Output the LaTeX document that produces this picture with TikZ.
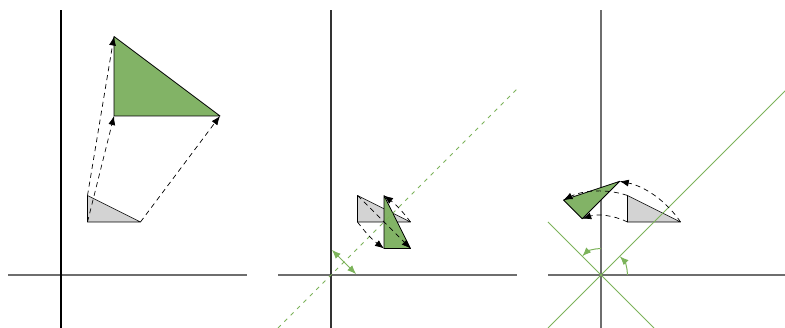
\documentclass[tikz,border=0pt]{standalone}
\usetikzlibrary{arrows.meta}
\definecolor{gfill}{HTML}{82B366}
\definecolor{gline}{HTML}{7CB35A}
\definecolor{tgray}{HTML}{D3D3D3}
\definecolor{axgray}{HTML}{6E6E6E}
\tikzset{
  axisline/.style={line width=1.2pt, axgray},
  srctri/.style={draw=black, fill=tgray, line width=0.6pt, line join=round},
  imgtri/.style={draw=black, fill=gfill, line width=0.8pt, line join=round},
  maparrow/.style={line width=0.7pt, dash pattern=on 5pt off 4pt, -{Latex[length=9pt,width=7pt]}},
  mirror/.style={gline, line width=0.9pt},
  angarrow/.style={gline, line width=1pt, -{Latex[length=9pt,width=7pt]}},
}
\begin{document}
\begin{tikzpicture}[x=1pt,y=1pt]
\useasboundingbox (0,0) rectangle (785,328);
% ---------- panel 1: scaling ----------
\begin{scope}[shift={(61,53)}, x=26.5pt, y=26.5pt]
  \draw[axisline] (-2,0) -- (7,0);
  \draw[line width=1.1pt, black] (0,-2) -- (0,10);
  \coordinate (a1) at (1,3); \coordinate (b1) at (1,2); \coordinate (c1) at (3,2);
  \coordinate (a1p) at (2,9); \coordinate (b1p) at (2,6); \coordinate (c1p) at (6,6);
  \draw[srctri] (a1) -- (b1) -- (c1) -- cycle;
  \draw[imgtri] (a1p) -- (b1p) -- (c1p) -- cycle;
  \draw[maparrow] (a1) -- (a1p);
  \draw[maparrow] (b1) -- (b1p);
  \draw[maparrow] (c1) -- (c1p);
\end{scope}
% ---------- panel 2: reflection ----------
\begin{scope}[shift={(331,53)}, x=26.5pt, y=26.5pt]
  \draw[axisline] (-2,0) -- (7,0);
  \draw[line width=1.1pt, black!80] (0,-2) -- (0,10);
  \coordinate (a2) at (1,3); \coordinate (b2) at (1,2); \coordinate (c2) at (3,2);
  \coordinate (a2p) at (3,1); \coordinate (b2p) at (2,1); \coordinate (c2p) at (2,3);
  \draw[srctri] (a2) -- (b2) -- (c2) -- cycle;
  \draw[imgtri] (a2p) -- (b2p) -- (c2p) -- cycle;
  \draw[mirror, dash pattern=on 4pt off 5pt] (-2,-2) -- (7,7);
  \draw[maparrow] (a2) -- (a2p);
  \draw[maparrow] (b2) to[bend right=8] (b2p);
  \draw[maparrow] (c2) to[bend right=8] (c2p);
  \coordinate (n1) at (0.03,0.95); \coordinate (n2) at (0.95,0.03);
  \draw[gline, line width=1pt, {Latex[length=9pt,width=7pt]}-{Latex[length=9pt,width=7pt]}] (n1) -- (n2);
\end{scope}
% ---------- panel 3: rotation ----------
\begin{scope}[shift={(601,53)}, x=26.5pt, y=26.5pt]
  \draw[axisline] (-2,0) -- (7,0);
  \draw[axisline] (0,-2) -- (0,10);
  \coordinate (a3) at (1,3); \coordinate (b3) at (1,2); \coordinate (c3) at (3,2);
  \coordinate (a3p) at (45+71.565:3.1623);
  \coordinate (b3p) at (45+63.435:2.2361);
  \coordinate (c3p) at (45+33.690:3.6056);
  \draw[srctri] (a3) -- (b3) -- (c3) -- cycle;
  \draw[imgtri] (a3p) -- (b3p) -- (c3p) -- cycle;
  \draw[mirror] (-2,-2) -- (7,7);
  \draw[mirror] (-2,2) -- (2,-2);
  \coordinate (r1) at (1,0); \coordinate (r2) at (0,1);
  \draw[angarrow] (r1) arc[start angle=0, end angle=45, radius=1];
  \draw[angarrow] (r2) arc[start angle=90, end angle=135, radius=1];
  \draw[maparrow] (a3) arc[start angle=71.565, delta angle=45, radius=3.1623];
  \draw[maparrow] (b3) arc[start angle=63.435, delta angle=45, radius=2.2361];
  \draw[maparrow] (c3) arc[start angle=33.690, delta angle=45, radius=3.6056];
\end{scope}
\end{tikzpicture}
\end{document}
